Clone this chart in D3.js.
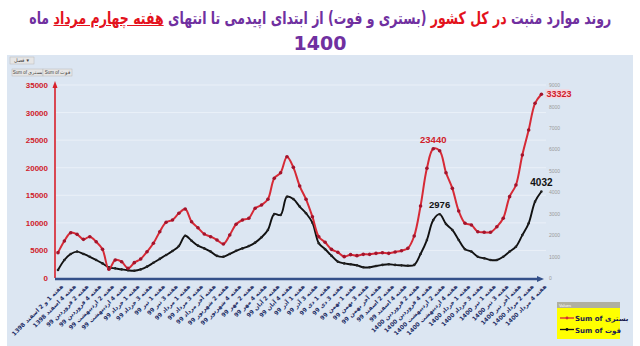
<!DOCTYPE html>
<html><head><meta charset="utf-8">
<script src="https://cdn.jsdelivr.net/npm/d3@7"></script>
<style>
body{margin:0;width:640px;height:346px;overflow:hidden;background:#fff;position:relative;}
.tl{position:absolute;left:-680px;width:2000px;text-align:center;direction:rtl;font-family:"DejaVu Sans",sans-serif;font-weight:bold;color:#7030a0;white-space:nowrap;}
.tl .inner{display:inline-block;transform-origin:50% 50%;}
#t1{top:7px;font-size:17px;line-height:22px;}
#t2{top:32px;font-size:19px;line-height:22px;}
.red{color:#e3121c}
.u{text-decoration:underline}
svg{position:absolute;left:0;top:0}
</style></head><body>
<svg id="chart" width="640" height="346"></svg>
<div id="t1" class="tl"><span class="inner"></span></div>
<div id="t2" class="tl"><span class="inner"></span></div>
<script>
const titleLine1 = ["روند موارد مثبت ", "در کل کشور", " (بستری و فوت) از ابتدای اپیدمی تا انتهای ", "هفته چهارم مرداد", " ماه"];
const titleLine2 = "1400";

const categories = [
"هفته 1 و 2 اسفند 1398","هفته 3 اسفند 1398","هفته 4 اسفند 1398","هفته 1 فروردین 99","هفته 2 فروردین 99",
"هفته 3 فروردین 99","هفته 4 فروردین 99","هفته 1 اردیبهشت 99","هفته 2 اردیبهشت 99","هفته 3 اردیبهشت 99",
"هفته 4 اردیبهشت 99","هفته آخر اردیبهشت 99","هفته 1 خرداد 99","هفته 2 خرداد 99","هفته 3 خرداد 99",
"هفته 4 خرداد 99","هفته 1 تیر 99","هفته 2 تیر 99","هفته 3 تیر 99","هفته 4 تیر 99",
"هفته 1 مرداد 99","هفته 2 مرداد 99","هفته 3 مرداد 99","هفته 4 مرداد 99","هفته آخر مرداد 99",
"هفته 1 شهریور 99","هفته 2 شهریور 99","هفته 3 شهریور 99","هفته 4 شهریور 99","هفته 1 مهر 99",
"هفته 2 مهر 99","هفته 3 مهر 99","هفته 4 مهر 99","هفته 1 آبان 99","هفته 2 آبان 99",
"هفته 3 آبان 99","هفته 4 آبان 99","هفته آخر آبان 99","هفته 1 آذر 99","هفته 2 آذر 99",
"هفته 3 آذر 99","هفته 4 آذر 99","هفته 1 دی 99","هفته 2 دی 99","هفته 3 دی 99",
"هفته 4 دی 99","هفته 1 بهمن 99","هفته 2 بهمن 99","هفته 3 بهمن 99","هفته 4 بهمن 99",
"هفته آخر بهمن 99","هفته 1 اسفند 99","هفته 2 اسفند 99","هفته 3 اسفند 99","هفته 4 اسفند 99",
"هفته 1 فروردین 1400","هفته 2 فروردین 1400","هفته 3 فروردین 1400","هفته 4 فروردین 1400","هفته 1 اردیبهشت 1400",
"هفته 2 اردیبهشت 1400","هفته 3 اردیبهشت 1400","هفته 4 اردیبهشت 1400","هفته آخر اردیبهشت 1400","هفته 1 خرداد 1400",
"هفته 2 خرداد 1400","هفته 3 خرداد 1400","هفته 4 خرداد 1400","هفته 1 تیر 1400","هفته 2 تیر 1400",
"هفته 3 تیر 1400","هفته 4 تیر 1400","هفته آخر تیر 1400","هفته 1 مرداد 1400","هفته 2 مرداد 1400",
"هفته 3 مرداد 1400","هفته 4 مرداد 1400"];

// بستری (hospitalised) – left axis
const hospitalised = [4600,6710,8215,7920,7010,7490,6580,5200,1580,3260,
2960,1760,2780,3450,4770,6290,8400,10100,10520,11730,
12510,10210,9120,7980,7490,6890,6170,7800,9740,10520,
10830,12640,13240,14270,18080,19100,22000,20070,16680,14270,
11120,7490,6470,5200,4660,3870,4230,4050,4290,4290,
4470,4590,4470,4720,4950,5380,7620,13060,19890,23440,
23090,19100,16260,12150,9920,9610,8400,8290,8290,9300,
10830,14750,16870,22300,26840,31680,33323];

// فوت (deaths) – right axis
const deaths = [370,840,1120,1230,1120,990,840,680,500,450,
400,360,340,400,530,710,890,1070,1260,1490,
1970,1740,1510,1380,1230,1030,990,1120,1270,1380,
1490,1650,1900,2240,2980,2940,3790,3680,3330,3020,
2580,1620,1340,1040,760,680,640,590,500,500,
560,610,640,610,590,570,610,1120,1770,2700,
2976,2520,2240,1770,1340,1230,990,920,840,840,
990,1230,1460,2000,2550,3560,4032];

const leftTicks = [0,5000,10000,15000,20000,25000,30000,35000];
const rightTicks = [0,1000,2000,3000,4000,5000,6000,7000,8000,9000];
const tickLabels = categories.filter((d,i)=>i%2===0);
const seriesNames = ["Sum of بستری","Sum of فوت"];
const annotations = [
  {series:0, index:59, text:"23440"},
  {series:0, index:76, text:"33323"},
  {series:1, index:60, text:"2976"},
  {series:1, index:76, text:"4032"}];

// ---- title
const t1 = d3.select("#t1 .inner");
titleLine1.forEach((s,i)=>{
  const sp = t1.append("span").text(s);
  if(i===1) sp.attr("class","red");
  if(i===3) sp.attr("class","red u");
});
const w1 = t1.node().getBoundingClientRect().width;
t1.style("transform", `scaleX(${582/w1})`);
d3.select("#t2 .inner").text(titleLine2);

// ---- chart
const svg = d3.select("#chart");
svg.append("rect").attr("x",7).attr("y",55).attr("width",626).attr("height",291).attr("fill","#dce6f2");

// pivot buttons
const btn = svg.append("g").attr("font-family","Liberation Sans, sans-serif").attr("font-size",4.5).attr("fill","#444");
btn.append("rect").attr("x",10).attr("y",57).attr("width",24).attr("height",7).attr("fill","#e6e6e6").attr("stroke","#b8b8b8").attr("stroke-width",0.5);
btn.append("text").attr("x",22).attr("y",62.3).attr("text-anchor","middle").text("فصل ▼");
btn.append("rect").attr("x",12).attr("y",69).attr("width",31).attr("height",7).attr("fill","#e6e6e6").attr("stroke","#b8b8b8").attr("stroke-width",0.5);
btn.append("text").attr("x",27.5).attr("y",74.2).attr("text-anchor","middle").text(seriesNames[0]);
btn.append("rect").attr("x",43).attr("y",69).attr("width",29).attr("height",7).attr("fill","#e6e6e6").attr("stroke","#b8b8b8").attr("stroke-width",0.5);
btn.append("text").attr("x",57.5).attr("y",74.2).attr("text-anchor","middle").text(seriesNames[1]);

const x = d3.scalePoint().domain(categories).range([58, 541.4]);
const yL = d3.scaleLinear().domain([0,35000]).range([278, 85]);
const yR = d3.scaleLinear().domain([0,9000]).range([278, 85]);

// gridlines
svg.append("g").selectAll("line").data(leftTicks.slice(1)).join("line")
  .attr("x1",56).attr("x2",546).attr("y1",d=>yL(d)).attr("y2",d=>yL(d))
  .attr("stroke","#eaf0f8").attr("stroke-width",1);

// left axis
const gL = svg.append("g").attr("transform","translate(55,0)")
  .call(d3.axisLeft(yL).tickValues(leftTicks).tickSize(0).tickPadding(7).tickFormat(d3.format("d")));
gL.select(".domain").remove();
gL.selectAll("text").attr("fill","#d0202a").attr("font-family","Liberation Sans, sans-serif").attr("font-weight","bold").attr("font-size",8);
svg.append("line").attr("x1",55).attr("x2",55).attr("y1",278).attr("y2",86).attr("stroke","#d8202a").attr("stroke-width",1.6);
svg.append("path").attr("d","M52.5,88 L55,81 L57.5,88 Z").attr("fill","#d8202a");

// right axis
const gR = svg.append("g").attr("transform","translate(547,0)")
  .call(d3.axisRight(yR).tickValues(rightTicks).tickSize(0).tickPadding(2).tickFormat(d3.format("d")));
gR.select(".domain").remove();
gR.selectAll("text").attr("fill","#9a9a9a").attr("font-family","Liberation Sans, sans-serif").attr("font-size",5);

// x axis
const gX = svg.append("g").attr("transform","translate(0,279)")
  .call(d3.axisBottom(x).tickValues(tickLabels).tickSize(0).tickPadding(0));
gX.select(".domain").remove();
gX.selectAll("text")
  .attr("text-anchor","end").attr("dy",0).attr("y",0)
  .attr("transform","translate(5,8) rotate(-45)")
  .attr("fill","#1f2f66").attr("font-family","DejaVu Sans, sans-serif").attr("font-weight","bold").attr("font-size",5.8);
svg.append("line").attr("x1",55).attr("x2",538).attr("y1",279).attr("y2",279).attr("stroke","#34508a").attr("stroke-width",2.6);
svg.append("path").attr("d","M537,276 L544,279 L537,282 Z").attr("fill","#34508a");

// lines
const lineL = d3.line().x((d,i)=>x(categories[i])).y(d=>yL(d)).curve(d3.curveCatmullRom.alpha(0.5));
const lineR = d3.line().x((d,i)=>x(categories[i])).y(d=>yR(d)).curve(d3.curveCatmullRom.alpha(0.5));
svg.append("path").datum(deaths).attr("d",lineR).attr("fill","none").attr("stroke","#111").attr("stroke-width",1.9);
svg.append("g").selectAll("circle").data(deaths).join("circle")
  .attr("cx",(d,i)=>x(categories[i])).attr("cy",d=>yR(d)).attr("r",1.3).attr("fill","#222");
svg.append("path").datum(hospitalised).attr("d",lineL).attr("fill","none").attr("stroke","#d62a36").attr("stroke-width",2);
svg.append("g").selectAll("circle").data(hospitalised).join("circle")
  .attr("cx",(d,i)=>x(categories[i])).attr("cy",d=>yL(d)).attr("r",1.8).attr("fill","#a3142c");

// annotations
const ann = svg.append("g").attr("font-family","Liberation Sans, sans-serif").attr("font-weight","bold");
annotations.forEach(a=>{
  const cx = x(categories[a.index]);
  const vals = a.series===0 ? hospitalised : deaths;
  const cy = (a.series===0 ? yL : yR)(vals[a.index]);
  const col = a.series===0 ? "#d0202a" : "#111";
  if(a.index===76 && a.series===0){
    ann.append("rect").attr("x",cx+4).attr("y",cy-5).attr("width",24).attr("height",9).attr("fill","#f3d6de");
    ann.append("text").attr("x",cx+5).attr("y",cy+3).attr("fill",col).attr("font-size",9).text(a.text);
  } else if(a.index===76){
    ann.append("text").attr("x",cx).attr("y",cy-6).attr("text-anchor","middle").attr("fill",col).attr("font-size",10).text(a.text);
  } else {
    ann.append("text").attr("x",cx).attr("y",cy-6).attr("text-anchor","middle").attr("fill",col).attr("font-size",9.5).text(a.text);
  }
});

// legend
const lg = svg.append("g");
lg.append("rect").attr("x",557).attr("y",302).attr("width",63).attr("height",37).attr("fill","#ffff00");
lg.append("rect").attr("x",557).attr("y",302).attr("width",63).attr("height",6).attr("fill","#b0b0a0");
lg.append("text").attr("x",559).attr("y",306.8).attr("font-family","Liberation Sans, sans-serif").attr("font-size",4).attr("fill","#fff").text("Values");
const cols = ["#d62a36","#111"];
seriesNames.forEach((s,i)=>{
  const yy = 318 + i*11.5;
  lg.append("line").attr("x1",560).attr("x2",574).attr("y1",yy).attr("y2",yy).attr("stroke",cols[i]).attr("stroke-width",1.3);
  lg.append("circle").attr("cx",567).attr("cy",yy).attr("r",1.4).attr("fill",cols[i]);
  lg.append("text").attr("x",575).attr("y",yy+3).attr("font-family","DejaVu Sans, sans-serif").attr("font-weight","bold").attr("font-size",7).attr("fill","#1a1a50").text(s);
});
</script>
</body></html>
